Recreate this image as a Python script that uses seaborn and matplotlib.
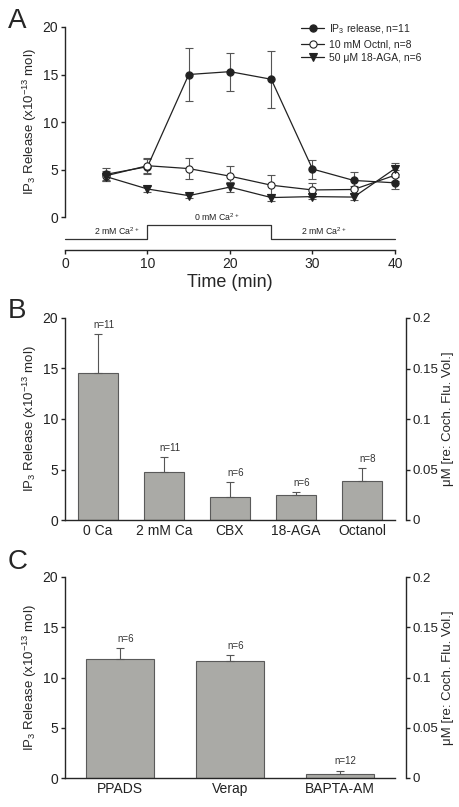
import numpy as np
import pandas as pd
import matplotlib
matplotlib.use("Agg")
import matplotlib.pyplot as plt
import seaborn as sns
from matplotlib.lines import Line2D

# ---------------- data ----------------
time_min = [5, 10, 15, 20, 25, 30, 35, 40]
ip3_mean = [4.5, 5.3, 15.0, 15.3, 14.5, 5.05, 3.85, 3.6]
ip3_err = [0.7, 0.8, 2.8, 2.0, 3.0, 1.0, 0.85, 0.6]
octnl_mean = [4.35, 5.4, 5.1, 4.3, 3.35, 2.85, 2.9, 4.4]
octnl_err = [0.5, 0.8, 1.1, 1.1, 1.1, 0.7, 0.4, 0.6]
aga_mean = [4.25, 2.95, 2.25, 3.15, 2.05, 2.15, 2.1, 5.1]
aga_err = [0.5, 0.35, 0.2, 0.5, 0.35, 0.3, 0.3, 0.6]
series_names = ["IP$_3$ release, n=11", "10 mM Octnl, n=8", "50 \u03bcM 18-AGA, n=6"]

protocol_t = [0, 10, 10, 25, 25, 40]
protocol_ca = [2, 2, 0, 0, 2, 2]
protocol_text_t = [6.3, 18.4, 31.3]
protocol_text = ["2 mM Ca$^{2+}$", "0 mM Ca$^{2+}$", "2 mM Ca$^{2+}$"]
protocol_text_ca = [2, 0, 2]

b_labels = ["0 Ca", "2 mM Ca", "CBX", "18-AGA", "Octanol"]
b_mean = [14.55, 4.75, 2.3, 2.5, 3.85]
b_err = [3.85, 1.5, 1.45, 0.3, 1.3]
b_n = [11, 11, 6, 6, 8]

c_labels = ["PPADS", "Verap", "BAPTA-AM"]
c_mean = [11.85, 11.6, 0.4]
c_err = [1.1, 0.65, 0.33]
c_n = [6, 6, 12]

# ---------------- style ----------------
sns.set_style("ticks")
plt.rcParams["font.family"] = ["Liberation Sans", "DejaVu Sans"]
plt.rcParams["mathtext.fontset"] = "custom"
plt.rcParams["mathtext.rm"] = "Liberation Sans"
plt.rcParams["mathtext.it"] = "Liberation Sans:italic"
plt.rcParams["axes.linewidth"] = 1.0
plt.rcParams["xtick.major.width"] = 1.0
plt.rcParams["ytick.major.width"] = 1.0
plt.rcParams["xtick.major.size"] = 3
plt.rcParams["ytick.major.size"] = 3

W, H = 460, 807
fig = plt.figure(figsize=(W / 100, H / 100), dpi=100)

def rect(x0, x1, ytop, ybot):
    return [x0 / W, 1 - ybot / H, (x1 - x0) / W, (ybot - ytop) / H]

ylab = "IP$_3$ Release (x10$^{-13}$ mol)"
bar_face = "#aaaaa6"
bar_edge = "#5a5a5a"
dark = "#222222"
TICK = 10
YLAB = 9.5

# ---------------- Panel A ----------------
axA = fig.add_axes(rect(65, 395, 27, 250))
dfA = pd.DataFrame({
    "t": time_min * 3,
    "v": ip3_mean + octnl_mean + aga_mean,
    "s": [series_names[0]] * 8 + [series_names[1]] * 8 + [series_names[2]] * 8,
})
marker_specs = [("o", dark, dark), ("o", "white", dark), ("v", dark, dark)]
errs = [ip3_err, octnl_err, aga_err]
means = [ip3_mean, octnl_mean, aga_mean]
handles = []
for i, name in enumerate(series_names):
    m, fc, ec = marker_specs[i]
    ms = 5.2 if m == "o" else 5.6
    sub = dfA[dfA["s"] == name]
    axA.errorbar(time_min, means[i], yerr=errs[i], fmt="none", ecolor="#555555",
                 elinewidth=0.8, capsize=3, capthick=0.8, zorder=2, clip_on=False)
    sns.lineplot(data=sub, x="t", y="v", ax=axA, color=dark, lw=0.9,
                 marker=m, markersize=ms,
                 markerfacecolor=fc, markeredgecolor=ec, markeredgewidth=0.8,
                 legend=False, zorder=3, clip_on=False)
    handles.append(Line2D([], [], color=dark, lw=0.9, marker=m, markersize=ms,
                          markerfacecolor=fc, markeredgecolor=ec, markeredgewidth=0.8))

lvl = {2: -2.32, 0: -0.84}
axA.plot(protocol_t, [lvl[c] for c in protocol_ca], color="#333333", lw=0.9, clip_on=False)
for t, s, c in zip(protocol_text_t, protocol_text, protocol_text_ca):
    axA.text(t, lvl[c] + 0.2, s, ha="center", va="bottom", fontsize=6.3, color="#222222")

axA.set_xlim(0, 40)
axA.set_ylim(-3.47, 20)
axA.set_xticks([0, 10, 20, 30, 40])
axA.set_yticks([0, 5, 10, 15, 20])
axA.spines["left"].set_bounds(0, 20)
axA.spines["right"].set_visible(False)
axA.spines["top"].set_visible(False)
axA.tick_params(labelsize=TICK, colors="#222222", pad=2)
axA.set_xlabel("Time (min)", fontsize=13, labelpad=2)
axA.set_ylabel(ylab, fontsize=YLAB)
axA.yaxis.set_label_coords(-0.078, (10 + 3.47) / 23.47)
leg = axA.legend(handles, series_names, loc="upper right", bbox_to_anchor=(1.10, 1.05),
                 frameon=False, fontsize=7.5, handlelength=2.2, handletextpad=0.5,
                 labelspacing=0.35, borderaxespad=0.2)

# ---------------- Bar panels ----------------
def bar_panel(box, labels, mean, err, ns):
    ax = fig.add_axes(box)
    df = pd.DataFrame({"cond": labels, "mean": mean})
    sns.barplot(data=df, x="cond", y="mean", ax=ax, color=bar_face, edgecolor=bar_edge,
                linewidth=0.8, width=0.62, errorbar=None, saturation=1)
    x = np.arange(len(labels))
    ax.errorbar(x, mean, yerr=[np.zeros(len(err)), err], fmt="none", ecolor="#555555",
                elinewidth=0.8, capsize=3, capthick=0.8, zorder=1)
    for xi, mi, ei, ni in zip(x, mean, err, ns):
        ax.annotate(f"n={ni}", (xi, mi + ei), xytext=(4, 3), textcoords="offset points",
                    ha="center", va="bottom", fontsize=7, color="#333333")
    ax.set_xlim(-0.5, len(labels) - 0.5)
    ax.set_ylim(0, 20)
    ax.set_yticks([0, 5, 10, 15, 20])
    ax.set_xlabel("")
    ax.set_ylabel(ylab, fontsize=YLAB)
    ax.yaxis.set_label_coords(-0.078, 0.5)
    ax.tick_params(axis="x", length=0, labelsize=TICK, pad=3, colors="#222222")
    ax.tick_params(axis="y", labelsize=TICK, pad=2, colors="#222222")
    ax.spines["right"].set_visible(False)
    ax.spines["top"].set_visible(False)
    ax2 = ax.twinx()
    ax2.set_ylim(0, 0.2)
    ax2.set_yticks([0, 0.05, 0.1, 0.15, 0.2])
    ax2.set_yticklabels(["0", "0.05", "0.1", "0.15", "0.2"])
    for s in ["left", "top", "bottom"]:
        ax2.spines[s].set_visible(False)
    ax2.spines["right"].set_visible(True)
    ax2.spines["right"].set_position(("outward", 8))
    ax2.tick_params(axis="y", labelsize=9.5, pad=1.5, colors="#222222")
    ax2.set_ylabel("\u03bcM [re: Coch. Flu. Vol.]", fontsize=YLAB, labelpad=3)
    return ax

axB = bar_panel(rect(65, 395, 318, 520), b_labels, b_mean, b_err, b_n)
axC = bar_panel(rect(65, 395, 577, 778), c_labels, c_mean, c_err, c_n)

# ---------------- panel letters ----------------
fig.text(8 / W, 1 - 28 / H, "A", fontsize=20, ha="left", va="baseline")
fig.text(8 / W, 1 - 318 / H, "B", fontsize=20, ha="left", va="baseline")
fig.text(8 / W, 1 - 569 / H, "C", fontsize=20, ha="left", va="baseline")

fig.savefig("out.png", dpi=100)
